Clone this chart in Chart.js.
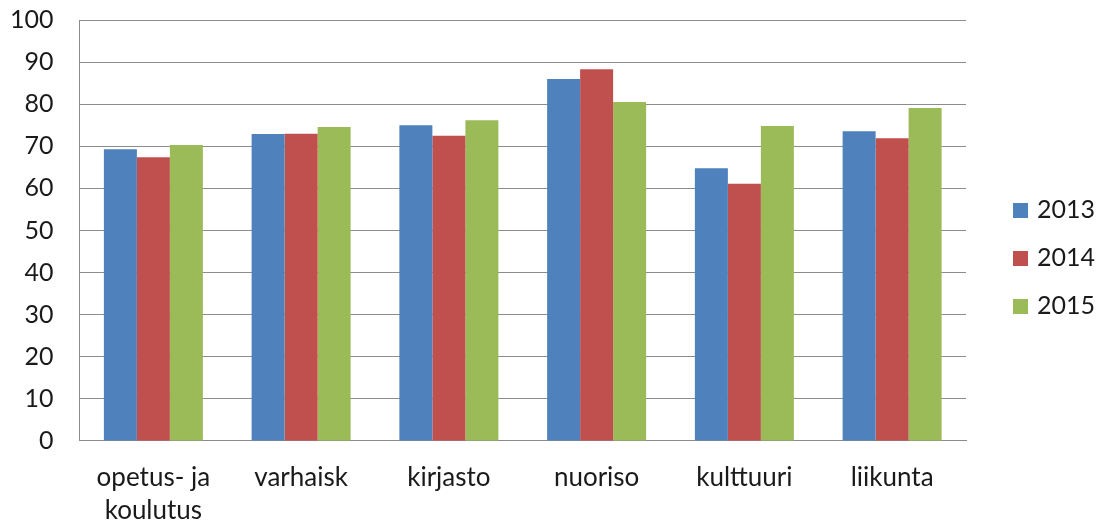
<!DOCTYPE html>
<html>
<head>
<meta charset="utf-8">
<script src="https://cdn.jsdelivr.net/npm/chart.js@4"></script>
<style>
  html, body { margin: 0; padding: 0; background: #fff; overflow: hidden; }
  #wrap { width: 1103px; height: 528px; overflow: hidden; }
  #chart { display: block; margin-top: -21px; }
</style>
</head>
<body>
<div id="wrap"><canvas id="chart" width="1103" height="549"></canvas></div>
<script>
const categories = [['opetus- ja', 'koulutus'], 'varhaisk', 'kirjasto', 'nuoriso', 'kulttuuri', 'liikunta'];
const years = ['2013', '2014', '2015'];
const values2013 = [69.3, 72.9, 75.0, 86.0, 64.8, 73.6];
const values2014 = [67.4, 73.0, 72.5, 88.3, 61.1, 71.9];
const values2015 = [70.3, 74.6, 76.2, 80.5, 74.8, 79.1];
const colors = ['#4F81BD', '#C0504D', '#9BBB59'];

const fontFamily = 'Lato, "Liberation Sans", sans-serif';
const shift = 21; // canvas is pulled up by this much

// legend drawn at the right, same look as the spreadsheet one
const sideLegend = {
    id: 'sideLegend',
    afterDraw: chart => {
        const ctx = chart.ctx;
        ctx.save();
        ctx.font = '25px ' + fontFamily;
        ctx.textBaseline = 'middle';
        chart.data.datasets.forEach((ds, i) => {
            const y = shift + 210 + i * 48;
            ctx.fillStyle = ds.backgroundColor;
            ctx.fillRect(1013, y - 7, 15, 15);
            ctx.fillStyle = '#1a1a1a';
            ctx.fillText(ds.label, 1037, y);
        });
        ctx.restore();
    }
};

const ctx = document.getElementById('chart').getContext('2d');
const chart = new Chart(ctx, {
    type: 'bar',
    plugins: [sideLegend],
    data: {
        labels: categories,
        datasets: [
            { label: years[0], data: values2013, backgroundColor: colors[0] },
            { label: years[1], data: values2014, backgroundColor: colors[1] },
            { label: years[2], data: values2015, backgroundColor: colors[2] }
        ]
    },
    options: {
        responsive: false,
        animation: false,
        layout: { padding: { left: -16, right: 137, top: 0, bottom: -19 } },
        datasets: {
            bar: { categoryPercentage: 0.67, barPercentage: 1.0, borderWidth: 0 }
        },
        plugins: {
            legend: { display: false },
            title: { display: false },
            tooltip: { enabled: false }
        },
        scales: {
            x: {
                grid: { display: false, drawTicks: false },
                border: { display: true, color: '#8c8c8c', width: 1 },
                ticks: {
                    color: '#1a1a1a',
                    padding: 20,
                    maxRotation: 0,
                    font: { family: fontFamily, size: 26, lineHeight: 1.27 }
                }
            },
            y: {
                min: 0,
                max: 100,
                grid: { color: '#8c8c8c', lineWidth: 1, drawTicks: false },
                border: { display: true, color: '#8c8c8c', width: 1 },
                ticks: {
                    stepSize: 10,
                    color: '#1a1a1a',
                    padding: 26,
                    font: { family: fontFamily, size: 25 }
                }
            }
        }
    }
});
</script>
</body>
</html>
